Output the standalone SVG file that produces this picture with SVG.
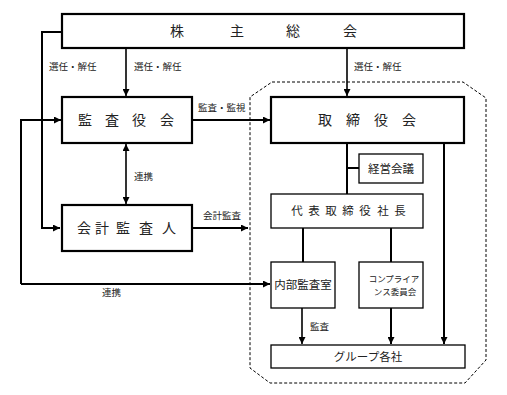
<svg xmlns="http://www.w3.org/2000/svg" width="507" height="395" viewBox="0 0 507 395">
<defs>
<marker id="ah" viewBox="0 0 10 10" refX="10" refY="5" markerWidth="7" markerHeight="7" markerUnits="userSpaceOnUse" orient="auto-start-reverse">
<path d="M0,0 L10,5 L0,10 z" fill="#000"/>
</marker>
<style>
.thick{fill:#fff;stroke:#000;stroke-width:2.2}
.thin{fill:#fff;stroke:#000;stroke-width:1.3}
.ln{fill:none;stroke:#000;stroke-width:1.6}
.lnb{fill:none;stroke:#000;stroke-width:2}
.big{font-family:"Noto Sans CJK JP","Noto Sans",sans-serif;font-size:14px;text-anchor:middle;fill:#222}
.mid{font-family:"Noto Sans CJK JP","Noto Sans",sans-serif;font-size:11.5px;text-anchor:middle;fill:#222}
.sm{font-family:"Noto Sans CJK JP","Noto Sans",sans-serif;font-size:9.5px;fill:#222}
.xs{font-family:"Noto Sans CJK JP","Noto Sans",sans-serif;font-size:8.5px;text-anchor:middle;fill:#222}
</style>
</defs>
<rect width="507" height="395" fill="#fff"/>
<path d="M272,82 L463,82 L486,98 L486,360 L465,383 L270,383 L250,368 L250,97 Z" fill="none" stroke="#000" stroke-width="1" stroke-dasharray="3,2"/>
<g id="connectors">
<path class="lnb" d="M62,32 L42,32 L42,228 L60,228" marker-end="url(#ah)"/>
<path class="ln" d="M126,48 L126,96" marker-end="url(#ah)"/>
<path class="ln" d="M347,48 L347,96" marker-end="url(#ah)"/>
<path class="lnb" d="M193,120 L270,120" marker-end="url(#ah)"/>
<path class="lnb" d="M21,284 L21,120 L61,120" marker-end="url(#ah)"/>
<path class="lnb" d="M21,284 L270,284" marker-end="url(#ah)"/>
<path class="ln" d="M126,144 L126,204" marker-start="url(#ah)" marker-end="url(#ah)"/>
<path class="lnb" d="M193,228 L248,228" marker-end="url(#ah)"/>
<path class="lnb" d="M347,143 L347,194 M347,168 L359,168"/>
<path class="lnb" d="M444,143 L444,344" marker-end="url(#ah)"/>
<path class="lnb" d="M303,228 L303,262 M391,228 L391,262"/>
<path class="ln" d="M302,308 L302,344" marker-end="url(#ah)"/>
<path class="lnb" d="M391,308 L391,344" marker-end="url(#ah)"/>
<text class="sm" x="49" y="70">選任・解任</text>
<text class="sm" x="134" y="70">選任・解任</text>
<text class="sm" x="354" y="70">選任・解任</text>
<text class="sm" x="198" y="111">監査・監視</text>
<text class="sm" x="134" y="180">連携</text>
<text class="sm" x="203" y="219">会計監査</text>
<text class="sm" x="102" y="296">連携</text>
<text class="sm" x="310" y="330">監査</text>
</g>
<g id="shareholders">
<rect class="thick" x="62" y="14" width="402" height="34"/>
<text class="big" y="36"><tspan x="177">株</tspan><tspan x="237">主</tspan><tspan x="293">総</tspan><tspan x="350">会</tspan></text>
</g>
<g id="kansayakukai">
<rect class="thick" x="62" y="97" width="130" height="46"/>
<text class="big" y="125"><tspan x="85">監</tspan><tspan x="112">査</tspan><tspan x="139">役</tspan><tspan x="167">会</tspan></text>
</g>
<g id="torishimariyakukai">
<rect class="thick" x="271" y="97" width="193" height="46"/>
<text class="big" y="125"><tspan x="325">取</tspan><tspan x="353">締</tspan><tspan x="381">役</tspan><tspan x="409">会</tspan></text>
</g>
<g id="kaikeikansanin">
<rect class="thick" x="62" y="205" width="130" height="46"/>
<text class="big" y="233"><tspan x="84">会</tspan><tspan x="102">計</tspan><tspan x="123">監</tspan><tspan x="146">査</tspan><tspan x="169">人</tspan></text>
</g>
<g id="keieikaigi">
<rect class="thin" x="359" y="154" width="64" height="29"/>
<text class="mid" x="391" y="173">経営会議</text>
</g>
<g id="shacho">
<rect class="thin" x="271" y="194" width="152" height="34"/>
<text class="mid" y="215"><tspan x="297">代</tspan><tspan x="314">表</tspan><tspan x="331">取</tspan><tspan x="348">締</tspan><tspan x="365">役</tspan><tspan x="383">社</tspan><tspan x="400">長</tspan></text>
</g>
<g id="naibukansashitsu">
<rect class="thin" x="271" y="262" width="64" height="46"/>
<text class="mid" x="303" y="289">内部監査室</text>
</g>
<g id="compliance">
<rect class="thin" x="359" y="262" width="64" height="46"/>
<text class="xs" x="394" y="282">コンプライア</text>
<text class="xs" x="395" y="295">ンス委員会</text>
</g>
<g id="group">
<rect class="thin" x="271" y="345" width="194" height="23"/>
<text class="mid" x="368" y="361">グループ各社</text>
</g>
</svg>
